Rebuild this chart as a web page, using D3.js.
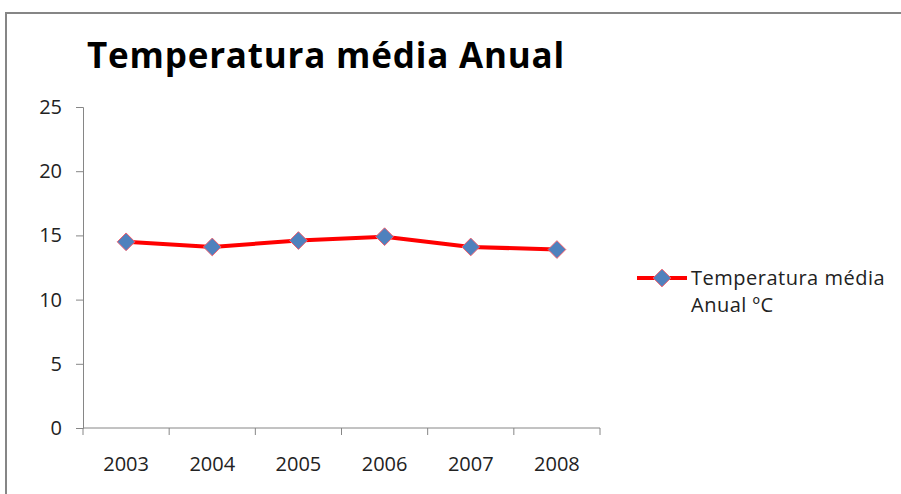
<!DOCTYPE html>
<html>
<head>
<meta charset="utf-8">
<script src="https://cdn.jsdelivr.net/npm/d3@7"></script>
<style>
    body { margin: 0; background: #fff; }
    svg { display: block; }
    text { font-family: "Open Sans", sans-serif; }
</style>
</head>
<body>
<svg width="901" height="494"></svg>
<script>
var years = ["2003", "2004", "2005", "2006", "2007", "2008"];
var temps = [14.5, 14.1, 14.6, 14.9, 14.1, 13.9];
var yTicks = [0, 5, 10, 15, 20, 25];
var seriesName = ["Temperatura média", "Anual ºC"];

var svg = d3.select("svg"),
    margin = {top: 107, left: 83},
    width = 517,
    height = 321;

// chart area frame (only top/left visible in the picture)
svg.append("path")
    .attr("d", "M6,950 L6,13 L1000,13")
    .attr("fill", "none")
    .attr("stroke", "#868686")
    .attr("stroke-width", 2);

svg.append("text")
    .attr("x", 87)
    .attr("y", 68)
    .attr("font-size", 35)
    .attr("font-weight", "bold")
    .attr("letter-spacing", 0.8)
    .attr("fill", "#000")
    .text("Temperatura média Anual");

var g = svg.append("g").attr("transform", "translate(" + margin.left + "," + margin.top + ")");

var x = d3.scaleBand().domain(years).range([0, width]);
var y = d3.scaleLinear().domain([0, 25]).range([height, 0]);

// y axis
var yAxis = g.append("g")
    .call(d3.axisLeft(y).tickValues(yTicks).tickSize(7).tickSizeOuter(7).tickPadding(14));
yAxis.select(".domain").attr("stroke", "#868686");
yAxis.selectAll(".tick line").attr("stroke", "#868686");
yAxis.selectAll("text").attr("font-size", 20).attr("fill", "#222")
    .attr("font-family", "'Open Sans', sans-serif");

// x axis with ticks between categories
var xAxis = g.append("g").attr("transform", "translate(0," + height + ")");
xAxis.append("line")
    .attr("x1", 0).attr("x2", width)
    .attr("stroke", "#868686");
xAxis.selectAll(".sep")
    .data(d3.range(years.length + 1))
    .enter().append("line")
    .attr("x1", function(i) { return i * x.step(); })
    .attr("x2", function(i) { return i * x.step(); })
    .attr("y1", 0).attr("y2", 7)
    .attr("stroke", "#868686");
xAxis.selectAll(".lab")
    .data(years)
    .enter().append("text")
    .attr("x", function(d) { return x(d) + x.bandwidth() / 2; })
    .attr("y", 43)
    .attr("text-anchor", "middle")
    .attr("font-size", 20)
    .attr("fill", "#222")
    .text(function(d) { return d; });

var data = years.map(function(d, i) { return {year: d, value: temps[i]}; });

var line = d3.line()
    .x(function(d) { return x(d.year) + x.bandwidth() / 2; })
    .y(function(d) { return y(d.value); });

g.append("path")
    .datum(data)
    .attr("fill", "none")
    .attr("stroke", "#ff0000")
    .attr("stroke-width", 4)
    .attr("stroke-linejoin", "round")
    .attr("d", line);

var diamond = d3.symbol().type(d3.symbolDiamond2).size(200);

g.selectAll(".pt")
    .data(data)
    .enter().append("path")
    .attr("transform", function(d) {
        return "translate(" + (x(d.year) + x.bandwidth() / 2) + "," + y(d.value) + ")";
    })
    .attr("d", diamond)
    .attr("fill", "#4f81bd")
    .attr("stroke", "#f06070")
    .attr("stroke-width", 1);

// legend
var lg = svg.append("g").attr("transform", "translate(637,278)");
lg.append("line")
    .attr("x1", 0).attr("x2", 50)
    .attr("stroke", "#ff0000")
    .attr("stroke-width", 4);
lg.append("path")
    .attr("transform", "translate(25,0)")
    .attr("d", diamond)
    .attr("fill", "#4f81bd")
    .attr("stroke", "#f06070")
    .attr("stroke-width", 1);
lg.selectAll(".lt")
    .data(seriesName)
    .enter().append("text")
    .attr("x", 54)
    .attr("y", function(d, i) { return 7 + i * 27; })
    .attr("font-size", 20)
    .attr("letter-spacing", 0.5)
    .attr("fill", "#222")
    .text(function(d) { return d; });
</script>
</body>
</html>
